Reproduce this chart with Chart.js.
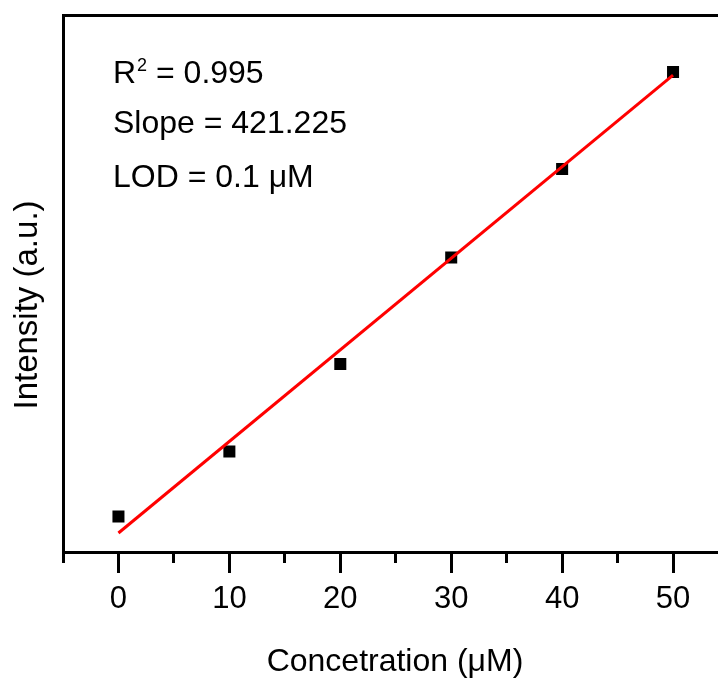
<!DOCTYPE html>
<html>
<head>
<meta charset="utf-8">
<script src="https://cdn.jsdelivr.net/npm/chart.js@4/dist/chart.umd.min.js"></script>
<style>
  html, body { margin: 0; padding: 0; background: #fff; overflow: hidden; }
  #wrap { position: relative; width: 745px; height: 679px; }
</style>
</head>
<body>
<div id="wrap"><canvas id="c"></canvas></div>
<script>
// ---- data ----
const concentrations = [0, 10, 20, 30, 40, 50];
const intensities = [1633, 4622, 8646, 13544, 17614, 22075];
const fitX = [0, 50];
const fitY = [874, 21935];
const xMajorTicks = [0, 10, 20, 30, 40, 50];
const statLines = ["R", "Slope = 421.225", "LOD = 0.1 \u03BCM"];
const r2Value = " = 0.995";
const xTitle = "Concetration (\u03BCM)";
const yTitle = "Intensity (a.u.)";

const FONT = '"Liberation Sans", Arial, sans-serif';

const textPlugin = {
  id: 'texts',
  afterDraw(chart) {
    const ctx = chart.ctx;
    const a = chart.chartArea;
    ctx.save();
    ctx.fillStyle = '#000';
    // annotation block
    ctx.textAlign = 'left';
    ctx.textBaseline = 'alphabetic';
    ctx.font = '32px ' + FONT;
    const lx = a.left + 50;
    const b1 = a.top + 68;
    ctx.fillText(statLines[0], lx, b1);
    const rw = ctx.measureText(statLines[0]).width;
    ctx.font = '18px ' + FONT;
    ctx.fillText('2', lx + rw + 1, b1 - 12);
    const sw = ctx.measureText('2').width;
    ctx.font = '32px ' + FONT;
    ctx.fillText(r2Value, lx + rw + sw + 1, b1);
    ctx.fillText(statLines[1], lx, a.top + 118);
    ctx.fillText(statLines[2], lx, a.top + 172);
    // x title
    ctx.font = '32px ' + FONT;
    ctx.textAlign = 'center';
    ctx.textBaseline = 'middle';
    ctx.fillText(xTitle, 395, a.bottom + 110);
    // y title
    ctx.translate(a.left - 35, a.top + 290);
    ctx.rotate(-Math.PI / 2);
    ctx.font = '33px ' + FONT;
    ctx.fillText(yTitle, 0, 0);
    ctx.restore();
  }
};

new Chart(document.getElementById('c'), {
  type: 'scatter',
  data: {
    datasets: [
      {
        label: 'data',
        data: concentrations.map((x, i) => ({ x: x, y: intensities[i] })),
        pointStyle: 'rect',
        pointRadius: 8.5,
        pointHoverRadius: 8.5,
        backgroundColor: '#000',
        borderColor: '#000',
        borderWidth: 0,
        showLine: false,
        order: 1
      },
      {
        label: 'fit',
        data: fitX.map((x, i) => ({ x: x, y: fitY[i] })),
        showLine: true,
        borderColor: '#ff0000',
        borderWidth: 3,
        pointRadius: 0,
        pointHoverRadius: 0,
        fill: false,
        order: 0
      }
    ]
  },
  options: {
    responsive: true,
    maintainAspectRatio: false,
    animation: false,
    events: [],
    layout: { padding: { top: 0, right: 16.5, bottom: 0, left: 0 } },
    plugins: { legend: { display: false }, tooltip: { enabled: false } },
    scales: {
      x: {
        type: 'linear',
        position: 'bottom',
        min: -5,
        max: 55,
        afterFit(s) { s.height = 127; },
        afterBuildTicks(s) {
          const t = [];
          for (let v = -5; v <= 55; v += 5) t.push({ value: v });
          s.ticks = t;
        },
        border: { display: true, color: '#000', width: 3 },
        grid: {
          display: true,
          drawOnChartArea: false,
          drawTicks: true,
          tickLength: 21,
          tickWidth: 3,
          tickColor: '#000',
          tickBorderDash: (ctx) => (ctx.tick && xMajorTicks.includes(ctx.tick.value)) ? [] : [9, 60]
        },
        ticks: {
          color: '#000',
          font: { family: FONT, size: 31 },
          padding: 8,
          maxRotation: 0,
          autoSkip: false,
          callback: (v) => xMajorTicks.includes(v) ? String(v) : ''
        }
      },
      xTop: {
        type: 'linear',
        position: 'top',
        min: -5,
        max: 55,
        afterFit(s) { s.height = 15; },
        border: { display: true, color: '#000', width: 3 },
        grid: { display: false, drawTicks: false },
        ticks: { display: false }
      },
      y: {
        type: 'linear',
        position: 'left',
        min: 0,
        max: 24700,
        afterFit(s) { s.width = 63; },
        border: { display: true, color: '#000', width: 3 },
        grid: { display: false, drawTicks: false },
        ticks: { display: false }
      }
    }
  },
  plugins: [textPlugin]
});
</script>
</body>
</html>
